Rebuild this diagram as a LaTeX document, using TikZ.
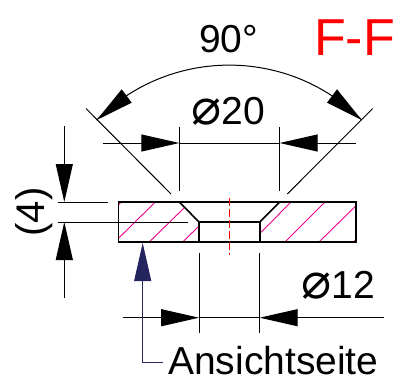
\documentclass[tikz,border=0pt]{standalone}
\usepackage{fontspec}
\setmainfont{Liberation Sans}
\newfontfamily\diafont{DejaVu Sans}
\newcommand{\diasign}{{\diafont\fontsize{50}{50}\selectfont ⌀}}
\usetikzlibrary{arrows.meta}
\tikzset{
  dimtip/.tip={Triangle[length=38pt,width=17pt]},
  partline/.style={line width=1.6pt,line join=miter},
  dimline/.style={line width=1pt},
  hatchline/.style={line width=0.9pt,draw=magenta},
  dimtext/.style={anchor=base west,inner sep=0pt,font=\fontsize{39}{39}\selectfont}
}
\definecolor{viewcolor}{HTML}{24245F}
\begin{document}
\begin{tikzpicture}[x=1pt,y=1pt]
\useasboundingbox (0,0) rectangle (395,381);

% hatching
\draw[hatchline] (118.5,176) -- (121,179);
\draw[hatchline] (118.5,142.7) -- (155.3,179);
\draw[hatchline] (149.3,139) -- (184.3,173.3);
\draw[hatchline] (182.7,139) -- (199,155);
\draw[hatchline] (260,147.7) -- (291,179);
\draw[hatchline] (285,139) -- (325,179);
\draw[hatchline] (319,139) -- (355.7,175);
\draw[hatchline] (353.3,139) -- (355.7,141);

% part
\draw[partline] (118.5,139) rectangle (355.7,179);
\draw[partline] (179.3,179) -- (199,159) -- (259.7,159) -- (279.7,179);
\draw[partline] (199,159) -- (199,139);
\draw[partline] (259.7,159) -- (259.7,139);
\draw[red,line width=1pt,dash pattern=on 8pt off 3pt] (229.3,183) -- (229.3,126);

% 90 degrees
\draw[dimline] (86,272.5) -- (171,187);
\draw[dimline] (372.7,272.5) -- (287.3,187);
\draw[dimline] (96.7,261) arc[start angle=135,end angle=45,radius=187.4];
\fill (96.7,261) -- (121.7,291.7) -- (131.7,278.3) -- cycle;
\fill (361.7,261) -- (337,291.7) -- (327,278.3) -- cycle;
\node[dimtext] (anglelabel) at (199,328) {90°};

% title
\node[dimtext,text=red,font=\fontsize{52}{52}\selectfont] (sectionlabel) at (314,326) {F-F};

% dia 20
\draw[dimline] (179.3,253.7) -- (179.3,190.3);
\draw[dimline] (279.7,253.7) -- (279.7,190.3);
\draw[dimline,-dimtip] (102.7,238) -- (179.3,238);
\draw[dimline] (179.3,238) -- (279.7,238);
\draw[dimline,-dimtip] (355.7,238) -- (279.7,238);
\node[dimtext] (diatwenty) at (191.4,257) {\diasign 20};

% thickness
\draw[dimline] (57.7,179) -- (107.7,179);
\draw[dimline] (57.7,159) -- (188.3,159);
\draw[dimline,-dimtip] (64.3,255) -- (64.3,179);
\draw[dimline,-dimtip] (64.3,83.3) -- (64.3,159);
\node[dimtext,rotate=90,anchor=center,font=\fontsize{40}{40}\selectfont] (thickness) at (34,169) {(4)};

% dia 12
\draw[dimline] (199,127.7) -- (199,47.7);
\draw[dimline] (259.7,127.7) -- (259.7,47.7);
\draw[dimline,-dimtip] (122.7,63.3) -- (199,63.3);
\draw[dimline] (199,63.3) -- (259.7,63.3);
\draw[dimline,-dimtip] (384.3,63.3) -- (259.7,63.3);
\node[dimtext] (diatwelve) at (301.4,83) {\diasign 12};

% view side
\draw[dimline,draw=viewcolor,-{Triangle[length=38pt,width=17pt,fill=viewcolor]}] (162.7,18.3) -- (142.7,18.3) -- (142.7,138);
\node[dimtext] (viewlabel) at (168,7) {Ansichtseite};
\end{tikzpicture}
\end{document}
